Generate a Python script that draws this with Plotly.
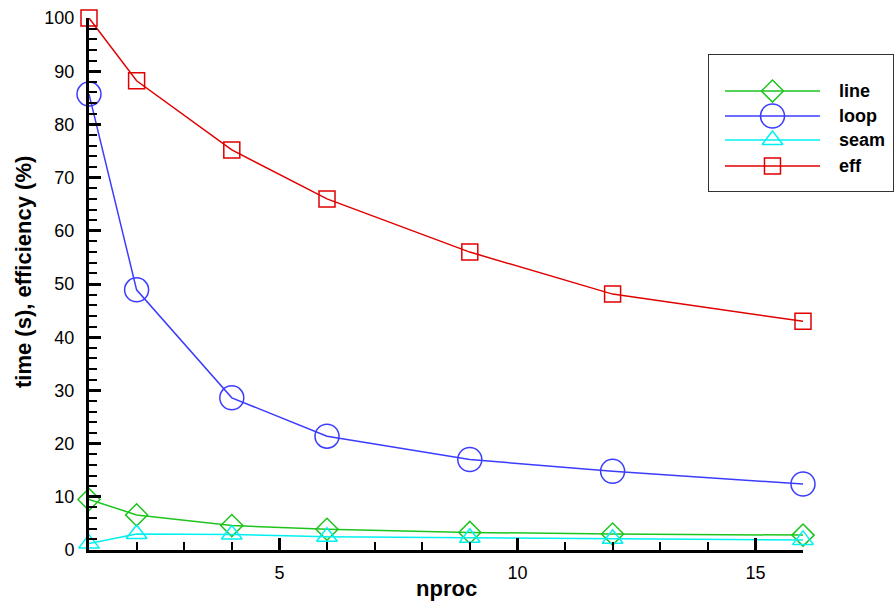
import plotly.graph_objects as go

# Scaling run: wall time per phase and parallel efficiency vs processor count
nproc = [1, 2, 4, 6, 9, 12, 16]
line_time = [9.5, 6.6, 4.6, 3.9, 3.3, 3.0, 2.8]
loop_time = [85.7, 48.9, 28.6, 21.4, 17.0, 14.8, 12.4]
seam_time = [1.2, 3.0, 2.9, 2.5, 2.3, 2.1, 1.9]
efficiency = [100.0, 88.2, 75.2, 66.0, 56.0, 48.1, 43.0]

series_names = ["line", "loop", "seam", "eff"]
series_values = [line_time, loop_time, seam_time, efficiency]
colors = ["#1ec41e", "#3c3cff", "#00f0f0", "#e00000"]
symbols = ["diamond-open", "circle-open", "triangle-up-open", "square-open"]
marker_sizes = [17, 24, 18, 16]

FONT = "Liberation Sans, Arial, sans-serif"

W, H = 896, 601
M_L, M_R, M_T, M_B = 89, 3, 18, 51
plot_w = W - M_L - M_R
plot_h = H - M_T - M_B

# main plot occupies left part; legend box uses its own hidden axis pair
main_right_px = 803
box_px = (709, 893, 55, 191)  # left, right, top, bottom


def px_to_xdom(px):
    return (px - M_L) / plot_w


def px_to_ydom(py):
    return 1 - (py - M_T) / plot_h


fig = go.Figure()

for name, vals, col, sym, ms in zip(series_names, series_values, colors, symbols, marker_sizes):
    fig.add_trace(go.Scatter(
        x=nproc, y=vals, name=name, mode="lines+markers",
        line=dict(color=col, width=1.5),
        marker=dict(symbol=sym, size=ms, color=col, line=dict(color=col, width=1.5)),
        cliponaxis=False, showlegend=False,
        xaxis="x", yaxis="y",
    ))

# legend samples drawn in the legend box coordinate system (0..1 each way)
row_y = [0.735, 0.551, 0.375, 0.184]
seg_x0, seg_x1 = 0.087, 0.603
for name, col, sym, ms, ry in zip(series_names, colors, symbols, marker_sizes, row_y):
    fig.add_trace(go.Scatter(
        x=[seg_x0, seg_x1], y=[ry, ry], mode="lines",
        line=dict(color=col, width=1.5), showlegend=False, hoverinfo="skip",
        xaxis="x2", yaxis="y2", cliponaxis=False,
    ))
    fig.add_trace(go.Scatter(
        x=[(seg_x0 + seg_x1) / 2], y=[ry], mode="markers",
        marker=dict(symbol=sym, size=ms, color=col, line=dict(color=col, width=1.5)),
        showlegend=False, hoverinfo="skip",
        xaxis="x2", yaxis="y2", cliponaxis=False,
    ))
    fig.add_annotation(
        x=0.696, y=ry, xref="x2", yref="y2", text=f"<b>{name}</b>",
        showarrow=False, xanchor="left", yanchor="middle",
        font=dict(family=FONT, size=18, color="black"),
    )

fig.add_shape(
    type="rect", xref="x2 domain", yref="y2 domain", x0=0, x1=1, y0=0, y1=1,
    line=dict(color="#333333", width=2), fillcolor="rgba(0,0,0,0)", layer="below",
)

tickfont = dict(family=FONT, size=18, color="black")

fig.update_layout(
    width=W, height=H,
    margin=dict(l=M_L, r=M_R, t=M_T, b=M_B),
    paper_bgcolor="white", plot_bgcolor="white",
    showlegend=False,
    xaxis=dict(
        domain=[0, px_to_xdom(main_right_px)], range=[1, 16],
        showgrid=False, zeroline=False,
        showline=True, linecolor="black", linewidth=3,
        ticks="inside", ticklen=12, tickwidth=3, tickcolor="black",
        tick0=0, dtick=5, tickfont=tickfont, ticklabelstandoff=4,
        minor=dict(ticks="inside", ticklen=8, tickwidth=2, tickcolor="black", dtick=1, showgrid=False),
        anchor="y",
    ),
    yaxis=dict(
        domain=[0, 1], range=[0, 100],
        showgrid=False, zeroline=False,
        showline=True, linecolor="black", linewidth=3,
        ticks="inside", ticklen=12, tickwidth=3, tickcolor="black",
        tick0=0, dtick=10, tickfont=tickfont, ticklabelstandoff=8,
        minor=dict(ticks="inside", ticklen=8, tickwidth=2, tickcolor="black", dtick=2, showgrid=False),
        anchor="x",
    ),
    xaxis2=dict(
        domain=[px_to_xdom(box_px[0]), min(1.0, px_to_xdom(box_px[1]))],
        range=[0, 1], visible=False, fixedrange=True, anchor="y2",
    ),
    yaxis2=dict(
        domain=[px_to_ydom(box_px[3]), px_to_ydom(box_px[2])],
        range=[0, 1], visible=False, fixedrange=True, anchor="x2",
    ),
)

# axis titles
fig.add_annotation(
    x=px_to_xdom((M_L + main_right_px) / 2), y=px_to_ydom(588), xref="paper", yref="paper",
    text="<b>nproc</b>", showarrow=False, xanchor="center", yanchor="middle",
    font=dict(family=FONT, size=22, color="black"),
)
fig.add_annotation(
    x=px_to_xdom(23), y=px_to_ydom(272), xref="paper", yref="paper",
    text="<b>time (s), efficiency (%)</b>", showarrow=False, textangle=-90,
    xanchor="center", yanchor="middle",
    font=dict(family=FONT, size=22, color="black"),
)

fig.write_html("out.html")
